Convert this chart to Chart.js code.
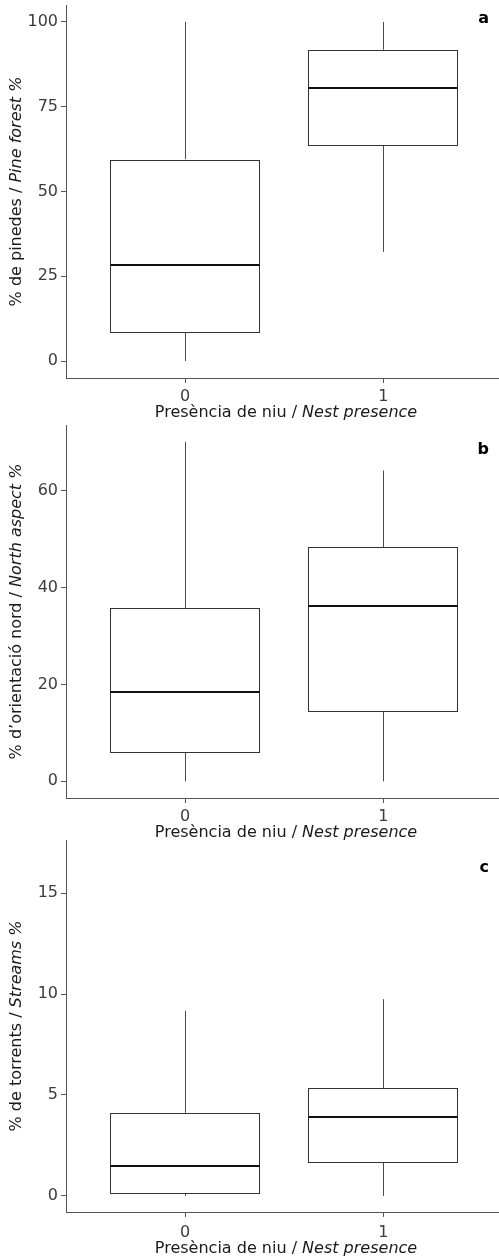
<!DOCTYPE html>
<html>
<head>
<meta charset="utf-8">
<script src="https://cdn.jsdelivr.net/npm/chart.js@4.4.0/dist/chart.umd.min.js"></script>
<style>
body { margin: 0; background: #ffffff; }
canvas { position: absolute; left: 0; }
</style>
</head>
<body>
<canvas id="pineChart" width="499" height="420" style="top:0px"></canvas>
<canvas id="northChart" width="499" height="420" style="top:420px"></canvas>
<canvas id="streamChart" width="499" height="419" style="top:840px"></canvas>
<script>
// Nest presence groups (0 = no nest, 1 = nest), placed at x = 1 and 2
var groups = ["0", "1"];
var positions = [1, 2];

// Panel a: pine forest %
var pineMin = [0, 32.2];
var pineQ1 = [8.6, 63.7];
var pineMed = [28.2, 80.4];
var pineQ3 = [59.4, 91.7];
var pineMax = [100, 100];
var pineTicks = [0, 25, 50, 75, 100];

// Panel b: north aspect %
var northMin = [0, 0];
var northQ1 = [6.1, 14.5];
var northMed = [18.5, 36.3];
var northQ3 = [35.7, 48.3];
var northMax = [70.1, 64.2];
var northTicks = [0, 20, 40, 60];

// Panel c: streams %
var streamMin = [0, 0];
var streamQ1 = [0.13, 1.68];
var streamMed = [1.5, 3.89];
var streamQ3 = [4.1, 5.33];
var streamMax = [9.17, 9.75];
var streamTicks = [0, 5, 10, 15];

var xTitle = ["Presència de niu / ", "Nest presence"];

var FONT = "'DejaVu Sans', Verdana, sans-serif";
var axisColor = "#555555";
var tickColor = "#3c3c3c";

// draws a label made of a regular part and an italic part, centred on (x, y)
function drawMixed(ctx, parts, x, y) {
    ctx.font = "16px " + FONT;
    var w1 = ctx.measureText(parts[0]).width;
    ctx.font = "italic 16px " + FONT;
    var w2 = ctx.measureText(parts[1]).width;
    var start = x - (w1 + w2) / 2;
    ctx.textAlign = "left";
    ctx.textBaseline = "middle";
    ctx.fillStyle = "#1a1a1a";
    ctx.font = "16px " + FONT;
    ctx.fillText(parts[0], start, y);
    ctx.font = "italic 16px " + FONT;
    ctx.fillText(parts[1], start + w1, y);
}

function crisp(v) {
    return Math.round(v) + 0.5;
}

var boxParts = {
    id: "boxParts",
    beforeDatasetsDraw(chart, args, p) {
        var ctx = chart.ctx;
        var xs = chart.scales.x;
        var ys = chart.scales.y;
        ctx.save();
        ctx.strokeStyle = "#4a4a4a";
        ctx.lineWidth = 1;
        for (let i = 0; i < positions.length; i++) {
            var px = crisp(xs.getPixelForValue(positions[i]));
            ctx.beginPath();
            ctx.moveTo(px, ys.getPixelForValue(p.max[i]));
            ctx.lineTo(px, ys.getPixelForValue(p.q3[i]));
            ctx.moveTo(px, ys.getPixelForValue(p.q1[i]));
            ctx.lineTo(px, ys.getPixelForValue(p.min[i]));
            ctx.stroke();
        }
        ctx.restore();
    },
    afterDatasetsDraw(chart, args, p) {
        var ctx = chart.ctx;
        var ys = chart.scales.y;
        var meta = chart.getDatasetMeta(0);
        ctx.save();
        for (let i = 0; i < positions.length; i++) {
            var bar = meta.data[i];
            var half = bar.width / 2;
            var left = crisp(bar.x - half);
            var right = crisp(bar.x + half) - 1;
            var top = crisp(bar.y);
            var bottom = crisp(bar.base);
            // box outline
            ctx.strokeStyle = "#333333";
            ctx.lineWidth = 1;
            ctx.strokeRect(left, top, right - left, bottom - top);
            // median
            var py = Math.round(ys.getPixelForValue(p.med[i]));
            ctx.strokeStyle = "#111111";
            ctx.lineWidth = 2;
            ctx.beginPath();
            ctx.moveTo(left, py);
            ctx.lineTo(right, py);
            ctx.stroke();
        }
        ctx.restore();
    },
    afterDraw(chart, args, p) {
        var ctx = chart.ctx;
        var area = chart.chartArea;
        ctx.save();
        drawMixed(ctx, xTitle, 286, area.bottom + p.xTitleGap);
        ctx.translate(17, (area.top + area.bottom) / 2);
        ctx.rotate(-Math.PI / 2);
        drawMixed(ctx, p.yTitle, 0, 0);
        ctx.restore();
        ctx.save();
        ctx.font = "bold 16px " + FONT;
        ctx.fillStyle = "#000000";
        ctx.textAlign = "right";
        ctx.textBaseline = "alphabetic";
        ctx.fillText(p.letter, 489, p.letterY);
        ctx.restore();
    },
};

function makeChart(canvasId, p) {
    let ctx = document.getElementById(canvasId).getContext("2d");
    return new Chart(ctx, {
        type: "bar",
        data: {
            datasets: [{
                data: positions.map((x, i) => ({ x: x, y: [p.q1[i], p.q3[i]] })),
                backgroundColor: "#ffffff",
                borderWidth: 0,
                barThickness: 150,
            }],
        },
        plugins: [boxParts],
        options: {
            responsive: false,
            devicePixelRatio: 1,
            animation: false,
            events: [],
            layout: {
                padding: { top: p.padTop, left: 0, right: 0, bottom: 0 },
            },
            plugins: {
                legend: { display: false },
                tooltip: { enabled: false },
                boxParts: p,
            },
            scales: {
                x: {
                    type: "linear",
                    offset: false,
                    min: 0.4,
                    max: 2.583,
                    afterBuildTicks: (s) => {
                        s.ticks = positions.map((v) => ({ value: v }));
                    },
                    afterFit: (s) => {
                        s.height = p.xAxisHeight;
                        s.paddingLeft = 0;
                        s.paddingRight = 0;
                    },
                    ticks: {
                        callback: (v) => groups[positions.indexOf(v)],
                        color: tickColor,
                        font: { family: FONT, size: 16 },
                        padding: p.xTickPad,
                        maxRotation: 0,
                    },
                    grid: {
                        offset: false,
                        drawOnChartArea: false,
                        tickLength: 5,
                        color: axisColor,
                    },
                    border: { color: axisColor, width: 1 },
                },
                y: {
                    min: p.yMin,
                    max: p.yMax,
                    afterBuildTicks: (s) => {
                        s.ticks = p.ticks.map((v) => ({ value: v }));
                    },
                    afterFit: (s) => {
                        s.width = 66;
                        s.paddingTop = 0;
                        s.paddingBottom = 0;
                    },
                    ticks: {
                        color: tickColor,
                        font: { family: FONT, size: 16 },
                        padding: 3,
                    },
                    grid: {
                        drawOnChartArea: false,
                        tickLength: 5,
                        color: axisColor,
                    },
                    border: { color: axisColor, width: 1 },
                },
            },
        },
    });
}

makeChart("pineChart", {
    min: pineMin, q1: pineQ1, med: pineMed, q3: pineQ3, max: pineMax,
    ticks: pineTicks, yMin: -5, yMax: 105,
    yTitle: ["% de pinedes / ", "Pine forest %"],
    letter: "a", letterY: 23,
    padTop: 5, xAxisHeight: 42, xTickPad: 4, xTitleGap: 35,
});

makeChart("northChart", {
    min: northMin, q1: northQ1, med: northMed, q3: northQ3, max: northMax,
    ticks: northTicks, yMin: -3.45, yMax: 73.6,
    yTitle: ["% d\u2019orientació nord / ", "North aspect %"],
    letter: "b", letterY: 34,
    padTop: 5, xAxisHeight: 42, xTickPad: 4, xTitleGap: 35,
});

makeChart("streamChart", {
    min: streamMin, q1: streamQ1, med: streamMed, q3: streamQ3, max: streamMax,
    ticks: streamTicks, yMin: -0.8, yMax: 17.64,
    yTitle: ["% de torrents / ", "Streams %"],
    letter: "c", letterY: 32,
    padTop: 0, xAxisHeight: 47, xTickPad: 6, xTitleGap: 37,
});
</script>
</body>
</html>
